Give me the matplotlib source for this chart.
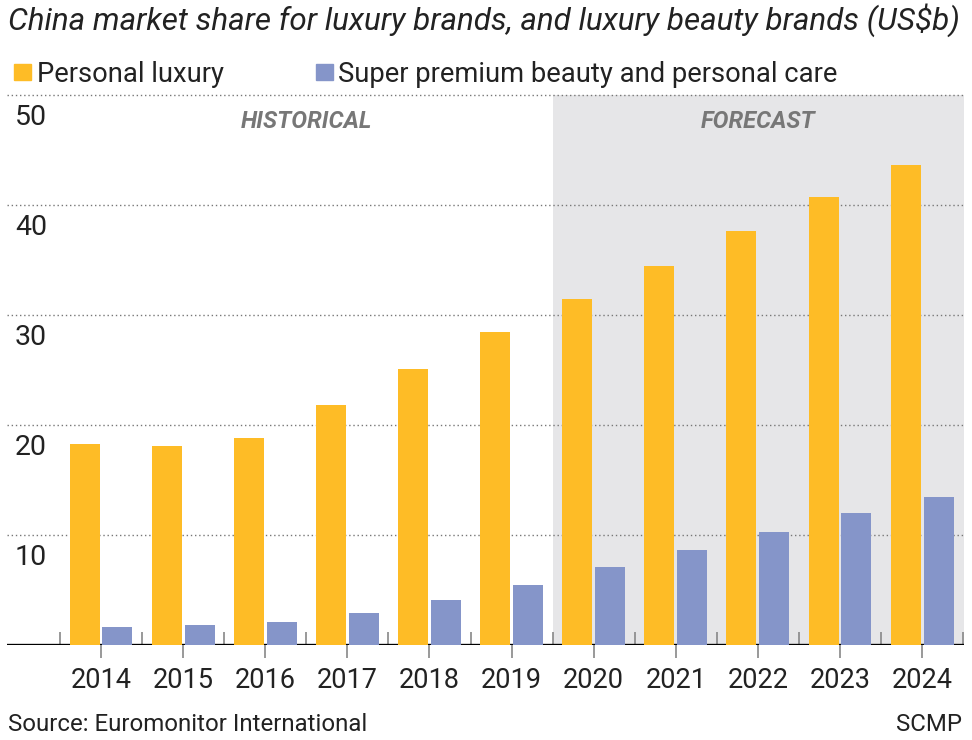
import matplotlib
matplotlib.use("Agg")
import matplotlib.pyplot as plt
from matplotlib.patches import Rectangle

years = ["2014", "2015", "2016", "2017", "2018", "2019",
         "2020", "2021", "2022", "2023", "2024"]
personal_luxury = [18.3, 18.1, 18.85, 21.8, 25.1, 28.5, 31.45, 34.5, 37.6, 40.7, 43.6]
beauty_care = [1.6, 1.85, 2.1, 2.9, 4.1, 5.5, 7.05, 8.65, 10.3, 12.0, 13.5]
y_ticks = [10, 20, 30, 40, 50]

plt.rcParams['font.family'] = ['Roboto', 'DejaVu Sans']

ORANGE = "#FEBC26"
BLUE = "#8595C9"
GREY_BG = "#E6E6E8"
TXT = "#222222"

W, H = 972, 740
fig = plt.figure(figsize=(W / 100, H / 100), dpi=100)
ax = fig.add_axes([7 / W, 1 - 645 / H, (964 - 7) / W, (645 - 95) / H])

x = list(range(len(years)))
bw = 0.365
ax.bar([i - 0.2 for i in x], personal_luxury, width=bw, color=ORANGE, zorder=3)
ax.bar([i + 0.2 for i in x], beauty_care, width=bw, color=BLUE, zorder=3)

ax.set_xlim(-1.145, 10.51)
ax.set_ylim(0, 50)

# forecast shading
ax.axvspan(5.5, 10.51, color=GREY_BG, zorder=0, lw=0)

# dotted grid
for v in y_ticks:
    ax.axhline(v, color="#777777", lw=1, ls=(0, (1, 2)), zorder=1, clip_on=False)
    ax.text(8 / 957, v - 2.73, str(v), transform=ax.get_yaxis_transform(),
            fontsize=20.5, color=TXT, va="baseline", ha="left")

ax.axhline(0, color="black", lw=2.4, zorder=2)

for s in ax.spines.values():
    s.set_visible(False)
ax.set_yticks([])
ax.set_xticks(x)
ax.set_xticklabels(years, fontsize=19.5, color=TXT)
for lab in ax.get_xticklabels():
    lab.set_va("baseline")
ax.set_xticks([i - 0.5 for i in range(len(years) + 1)], minor=True)
ax.tick_params(axis="x", which="major", direction="out", length=9.4,
               width=1.2, color="#888888", pad=21.6)
ax.tick_params(axis="x", which="minor", direction="in", length=9.4,
               width=1.2, color="#888888")

ax.text(2.5, 47.6, "HISTORICAL", fontsize=17, fontweight="bold", style="italic",
        color="#777777", ha="center", va="center")
ax.text(8, 47.6, "FORECAST", fontsize=17, fontweight="bold", style="italic",
        color="#777777", ha="center", va="center")

# title, legend, footer
fig.text(8 / W, 1 - 30 / H, "China market share for luxury brands, and luxury beauty brands (US$b)",
         fontsize=22.6, style="italic", color=TXT, va="baseline", ha="left")

fig.add_artist(Rectangle((14 / W, 1 - 80 / H), 17 / W, 16 / H, color=ORANGE,
                         transform=fig.transFigure))
fig.text(37 / W, 1 - 82 / H, "Personal luxury", fontsize=19.7, color=TXT, va="baseline")
fig.add_artist(Rectangle((316 / W, 1 - 80 / H), 17 / W, 16 / H, color=BLUE,
                         transform=fig.transFigure))
fig.text(338 / W, 1 - 82 / H, "Super premium beauty and personal care", fontsize=19.7,
         color=TXT, va="baseline")

fig.text(8 / W, 1 - 731 / H, "Source: Euromonitor International", fontsize=17.3,
         color=TXT, va="baseline")
fig.text(962 / W, 1 - 731 / H, "SCMP", fontsize=17.3, color=TXT, va="baseline", ha="right")

fig.savefig("out.png", dpi=100)
